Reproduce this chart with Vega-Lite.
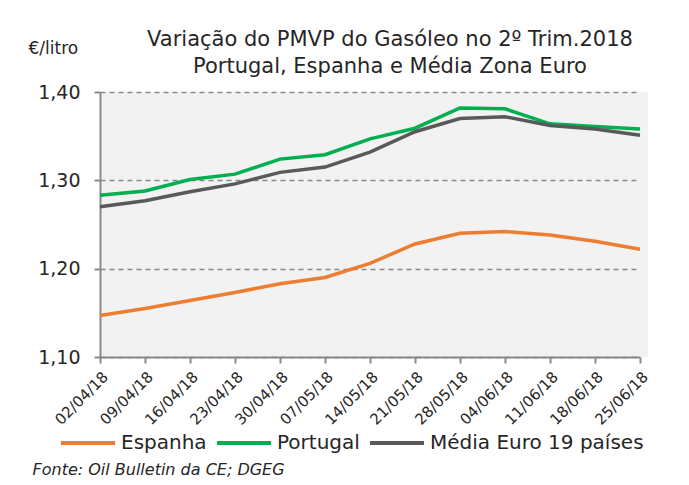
{
  "$schema": "https://vega.github.io/schema/vega-lite/v6.json",
  "autosize": "none",
  "width": 548,
  "height": 265,
  "padding": {"left": 100, "top": 92, "right": 41, "bottom": 128},
  "background": "white",
  "config": {
    "font": "DejaVu Sans",
    "view": {"fill": "#f2f2f2", "stroke": null}
  },
  "title": {
    "text": ["Variação do PMVP do Gasóleo no 2º Trim.2018", "Portugal, Espanha e Média Zona Euro"],
    "fontSize": 21,
    "fontWeight": "normal",
    "color": "#262626",
    "anchor": "middle",
    "dx": 16,
    "dy": 50,
    "offset": 12,
    "lineHeight": 27
  },
  "data": {
    "values": [
      {"data": "02/04/18", "serie": "Espanha", "preco": 1.147},
      {"data": "09/04/18", "serie": "Espanha", "preco": 1.155},
      {"data": "16/04/18", "serie": "Espanha", "preco": 1.164},
      {"data": "23/04/18", "serie": "Espanha", "preco": 1.173},
      {"data": "30/04/18", "serie": "Espanha", "preco": 1.183},
      {"data": "07/05/18", "serie": "Espanha", "preco": 1.190},
      {"data": "14/05/18", "serie": "Espanha", "preco": 1.206},
      {"data": "21/05/18", "serie": "Espanha", "preco": 1.228},
      {"data": "28/05/18", "serie": "Espanha", "preco": 1.240},
      {"data": "04/06/18", "serie": "Espanha", "preco": 1.242},
      {"data": "11/06/18", "serie": "Espanha", "preco": 1.238},
      {"data": "18/06/18", "serie": "Espanha", "preco": 1.231},
      {"data": "25/06/18", "serie": "Espanha", "preco": 1.222},
      {"data": "02/04/18", "serie": "Portugal", "preco": 1.283},
      {"data": "09/04/18", "serie": "Portugal", "preco": 1.288},
      {"data": "16/04/18", "serie": "Portugal", "preco": 1.301},
      {"data": "23/04/18", "serie": "Portugal", "preco": 1.307},
      {"data": "30/04/18", "serie": "Portugal", "preco": 1.324},
      {"data": "07/05/18", "serie": "Portugal", "preco": 1.329},
      {"data": "14/05/18", "serie": "Portugal", "preco": 1.347},
      {"data": "21/05/18", "serie": "Portugal", "preco": 1.359},
      {"data": "28/05/18", "serie": "Portugal", "preco": 1.382},
      {"data": "04/06/18", "serie": "Portugal", "preco": 1.381},
      {"data": "11/06/18", "serie": "Portugal", "preco": 1.364},
      {"data": "18/06/18", "serie": "Portugal", "preco": 1.361},
      {"data": "25/06/18", "serie": "Portugal", "preco": 1.358},
      {"data": "02/04/18", "serie": "Média Euro 19 países", "preco": 1.270},
      {"data": "09/04/18", "serie": "Média Euro 19 países", "preco": 1.277},
      {"data": "16/04/18", "serie": "Média Euro 19 países", "preco": 1.287},
      {"data": "23/04/18", "serie": "Média Euro 19 países", "preco": 1.296},
      {"data": "30/04/18", "serie": "Média Euro 19 países", "preco": 1.309},
      {"data": "07/05/18", "serie": "Média Euro 19 países", "preco": 1.315},
      {"data": "14/05/18", "serie": "Média Euro 19 países", "preco": 1.332},
      {"data": "21/05/18", "serie": "Média Euro 19 países", "preco": 1.355},
      {"data": "28/05/18", "serie": "Média Euro 19 países", "preco": 1.370},
      {"data": "04/06/18", "serie": "Média Euro 19 países", "preco": 1.372},
      {"data": "11/06/18", "serie": "Média Euro 19 países", "preco": 1.362},
      {"data": "18/06/18", "serie": "Média Euro 19 países", "preco": 1.358},
      {"data": "25/06/18", "serie": "Média Euro 19 países", "preco": 1.351}
    ]
  },
  "mark": {"type": "line", "strokeWidth": 3.5},
  "encoding": {
    "x": {
      "field": "data",
      "type": "ordinal",
      "sort": null,
      "scale": {"type": "point", "range": [0, 540], "padding": 0},
      "axis": {
        "title": "Fonte: Oil Bulletin da CE; DGEG",
        "titleFontStyle": "italic",
        "titleFontWeight": "normal",
        "titleFontSize": 16,
        "titleColor": "#262626",
        "titleAnchor": "start",
        "titleAlign": "left",
        "titleBaseline": "alphabetic",
        "titleX": -68,
        "titleY": 117,
        "labelAngle": -45,
        "labelFontSize": 15,
        "labelColor": "#262626",
        "labelPadding": 6,
        "domainColor": "#898989",
        "domainWidth": 2,
        "tickColor": "#898989",
        "tickWidth": 2,
        "tickSize": 6,
        "grid": false
      }
    },
    "y": {
      "field": "preco",
      "type": "quantitative",
      "scale": {"domain": [1.1, 1.4], "zero": false, "nice": false},
      "axis": {
        "values": [1.1, 1.2, 1.3, 1.4],
        "labelExpr": "replace(format(datum.value, '.2f'), '.', ',')",
        "labelFontSize": 19,
        "labelColor": "#262626",
        "labelPadding": 14,
        "title": "€/litro",
        "titleFontSize": 17,
        "titleFontWeight": "normal",
        "titleColor": "#262626",
        "titleAngle": 0,
        "titleAlign": "left",
        "titleBaseline": "alphabetic",
        "titleX": -72,
        "titleY": -39,
        "domainColor": "#898989",
        "domainWidth": 2,
        "tickColor": "#898989",
        "tickWidth": 2,
        "tickSize": 6,
        "grid": true,
        "gridColor": "#898989",
        "gridDash": [5, 4],
        "gridWidth": 1.5
      }
    },
    "color": {
      "field": "serie",
      "type": "nominal",
      "sort": ["Espanha", "Portugal", "Média Euro 19 países"],
      "scale": {
        "domain": ["Espanha", "Portugal", "Média Euro 19 países"],
        "range": ["#ED7D31", "#00B050", "#595959"]
      },
      "legend": {
        "title": null,
        "orient": "none",
        "direction": "horizontal",
        "legendX": -41,
        "legendY": 322,
        "symbolType": "stroke",
        "symbolSize": 2916,
        "symbolStrokeWidth": 4,
        "labelFontSize": 20,
        "labelColor": "#262626",
        "labelOffset": 4,
        "columnPadding": 2,
        "labelLimit": 300
      }
    }
  }
}
